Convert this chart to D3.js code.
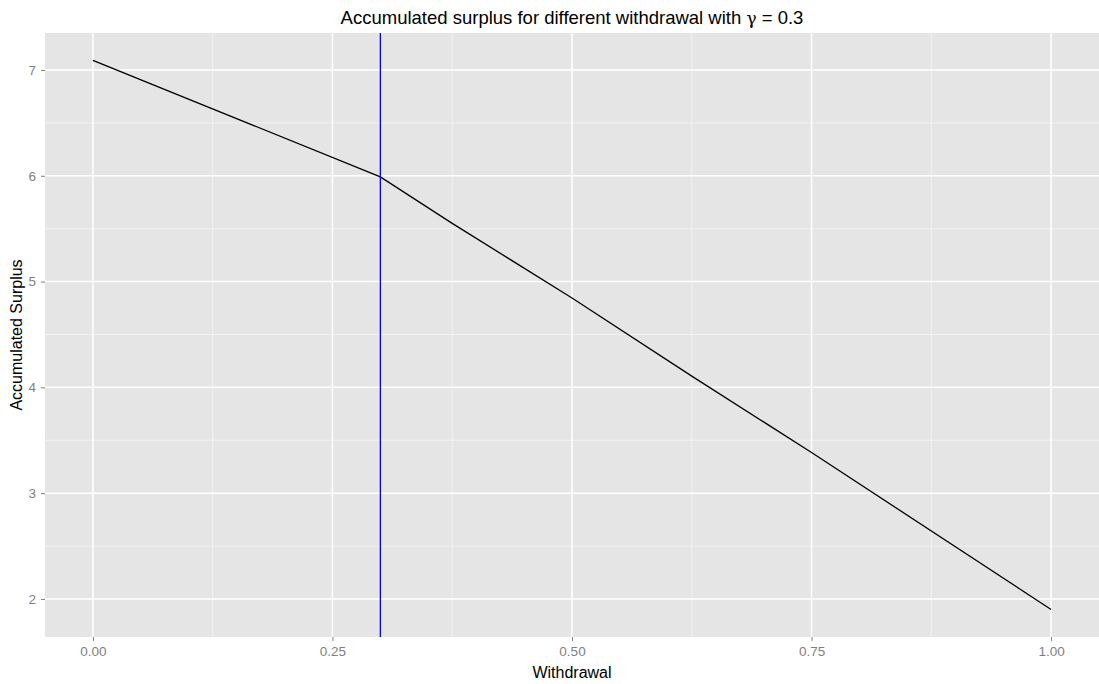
<!DOCTYPE html>
<html>
<head>
<meta charset="utf-8">
<script src="https://cdn.jsdelivr.net/npm/d3@7"></script>
<style>
  html, body { margin: 0; padding: 0; background: #fff; }
  svg { display: block; }
  text { font-family: "Liberation Sans", Arial, sans-serif; }
</style>
</head>
<body>
<svg id="chart" width="1099" height="684"></svg>
<script>
// Accumulated surplus as a function of the withdrawal level
const withdrawal = [0.0, 0.3, 0.375, 0.5, 0.625, 0.75, 1.0];
const surplus    = [7.09, 5.99, 5.55, 4.845, 4.106, 3.385, 1.90];
const optimalWithdrawal = 0.3;

const xTicks = [0, 0.25, 0.5, 0.75, 1.0];
const xTickLabels = ["0.00", "0.25", "0.50", "0.75", "1.00"];
const yTicks = [2, 3, 4, 5, 6, 7];
const xMinor = [0.125, 0.375, 0.625, 0.875];
const yMinor = [2.5, 3.5, 4.5, 5.5, 6.5];

const W = 1099, H = 684;
const margin = { top: 33, right: 0, bottom: 47, left: 45 };
const pw = W - margin.left - margin.right;
const ph = H - margin.top - margin.bottom;

const svg = d3.select("#chart");
const g = svg.append("g").attr("transform", `translate(${margin.left},${margin.top})`);

// ggplot-style 5% expansion of the data range
const xExt = d3.extent(withdrawal), yExt = d3.extent(surplus);
const xPad = (xExt[1] - xExt[0]) * 0.05, yPad = (yExt[1] - yExt[0]) * 0.05;
const x = d3.scaleLinear().domain([xExt[0] - xPad, xExt[1] + xPad]).range([0, pw]);
const y = d3.scaleLinear().domain([yExt[0] - yPad, yExt[1] + yPad]).range([ph, 0]);

// panel background
g.append("rect").attr("width", pw).attr("height", ph).attr("fill", "#E5E5E5");

// minor grid
g.selectAll(".vminor").data(xMinor).enter().append("line")
  .attr("x1", d => x(d)).attr("x2", d => x(d)).attr("y1", 0).attr("y2", ph)
  .attr("stroke", "#F2F2F2").attr("stroke-width", 1);
g.selectAll(".hminor").data(yMinor).enter().append("line")
  .attr("y1", d => y(d)).attr("y2", d => y(d)).attr("x1", 0).attr("x2", pw)
  .attr("stroke", "#F2F2F2").attr("stroke-width", 1);

// major grid
g.selectAll(".vmajor").data(xTicks).enter().append("line")
  .attr("x1", d => x(d)).attr("x2", d => x(d)).attr("y1", 0).attr("y2", ph)
  .attr("stroke", "#FFFFFF").attr("stroke-width", 1.5);
g.selectAll(".hmajor").data(yTicks).enter().append("line")
  .attr("y1", d => y(d)).attr("y2", d => y(d)).attr("x1", 0).attr("x2", pw)
  .attr("stroke", "#FFFFFF").attr("stroke-width", 1.5);

// axes
const xAxis = d3.axisBottom(x).tickValues(xTicks).tickFormat((d, i) => xTickLabels[i])
  .tickSize(4).tickPadding(5);
const yAxis = d3.axisLeft(y).tickValues(yTicks).tickFormat(d3.format("d"))
  .tickSize(4).tickPadding(5);

const gx = g.append("g").attr("transform", `translate(0,${ph})`).call(xAxis);
const gy = g.append("g").call(yAxis);
[gx, gy].forEach(a => {
  a.select(".domain").remove();
  a.selectAll(".tick line").attr("stroke", "#7F7F7F").attr("stroke-width", 1);
  a.selectAll(".tick text").attr("fill", "#7F7F7F")
    .style("font-size", "13.5px").style("font-family", "'Liberation Sans', Arial, sans-serif");
});

// surplus curve
const line = d3.line().x((d, i) => x(withdrawal[i])).y(d => y(d));
g.append("path").datum(surplus).attr("d", line)
  .attr("fill", "none").attr("stroke", "#000").attr("stroke-width", 1.3);

// chosen withdrawal marker
g.append("line")
  .attr("x1", x(optimalWithdrawal)).attr("x2", x(optimalWithdrawal))
  .attr("y1", 0).attr("y2", ph)
  .attr("stroke", "#0000FF").attr("stroke-width", 1.3);

// titles
const title = svg.append("text")
  .attr("x", margin.left + pw / 2).attr("y", 24)
  .attr("text-anchor", "middle").attr("fill", "#000")
  .style("font-size", "18.5px");
title.append("tspan").text("Accumulated surplus for different withdrawal with ");
title.append("tspan").style("font-family", "'DejaVu Serif', serif").style("font-size", "17px").text("γ");
title.append("tspan").text(" = 0.3");

svg.append("text")
  .attr("x", margin.left + pw / 2).attr("y", 678)
  .attr("text-anchor", "middle").attr("fill", "#000")
  .style("font-size", "16px").text("Withdrawal");

svg.append("text")
  .attr("transform", `translate(22,${margin.top + ph / 2}) rotate(-90)`)
  .attr("text-anchor", "middle").attr("fill", "#000")
  .style("font-size", "16px").text("Accumulated Surplus");
</script>
</body>
</html>
